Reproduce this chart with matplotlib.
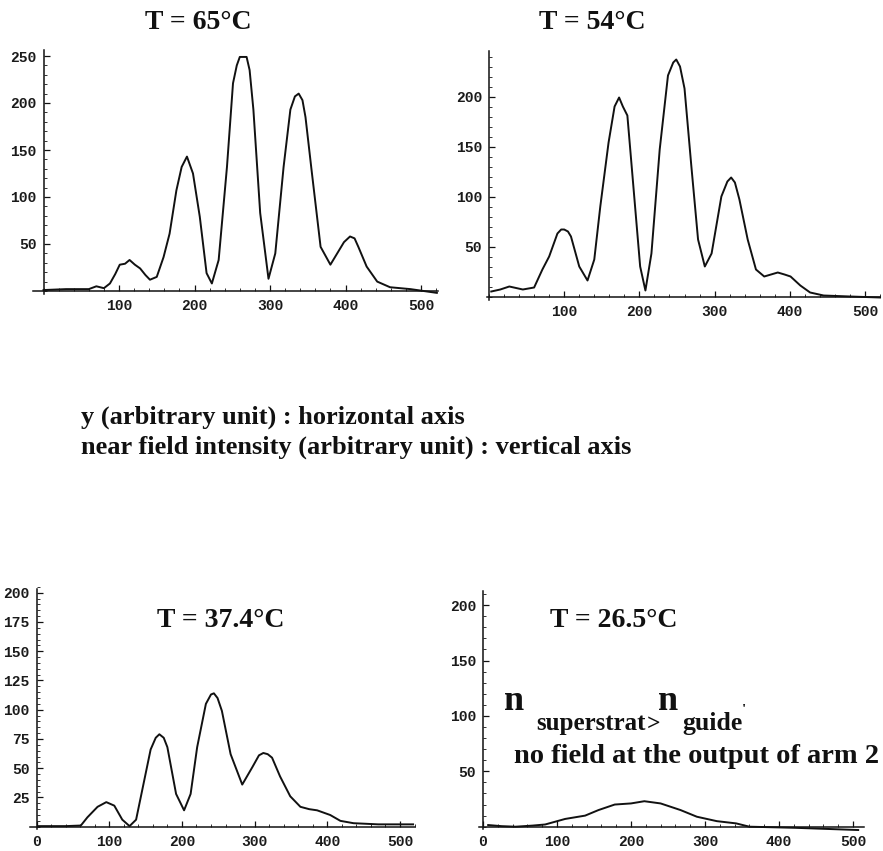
import matplotlib
matplotlib.use("Agg")
import matplotlib.pyplot as plt
from matplotlib.ticker import FixedLocator, MultipleLocator

W, H = 883, 851

# near-field profiles (y position, intensity)
x65 = [0, 30, 60, 70, 80, 88, 95, 101, 108, 114, 121, 128, 135, 141, 150, 159, 167,
       176, 183, 190, 198, 207, 216, 223, 232, 243, 251, 256, 260, 269, 273, 278, 287,
       298, 307, 318, 327, 333, 338, 343, 347, 355, 367, 380, 389, 398, 406, 412,
       417, 428, 442, 459, 486, 521]
y65 = [1, 2, 2, 5, 3, 8, 18, 28, 29, 33, 28, 24, 17, 12, 15, 36, 61,
       107, 132, 143, 125, 79, 19, 8, 33, 132, 221, 240, 249, 249, 235, 193, 83,
       13, 40, 132, 193, 207, 210, 203, 185, 129, 47, 28, 40, 52, 58, 56,
       47, 26, 10, 4, 2, -2]

x54 = [3, 15, 27, 45, 60, 71, 80, 91, 96, 100, 105, 109, 120, 131, 140, 148, 159,
       167, 173, 178, 184, 192, 201, 208, 216, 227, 238, 245, 249, 254, 260, 269, 278,
       287, 296, 309, 317, 322, 327, 333, 344, 355, 366, 375, 384, 393, 401, 414,
       427, 445, 480, 520]
y54 = [5, 7, 10, 7, 9, 27, 40, 63, 67, 67, 65, 60, 30, 16, 37, 90, 154,
       190, 199, 190, 181, 110, 30, 6, 43, 147, 221, 234, 237, 230, 208, 131, 57,
       30, 43, 100, 115, 119, 114, 97, 57, 27, 20, 22, 24, 22, 20, 11,
       4, 1, 0, -1]

x374 = [2, 20, 40, 61, 70, 84, 96, 107, 118, 128, 137, 146, 157, 164, 169, 175,
        180, 192, 203, 212, 221, 233, 240, 244, 249, 255, 267, 283, 297, 306, 312,
        318, 324, 335, 349, 363, 375, 386, 395, 404, 418, 436, 470, 518]
y374 = [0.5, 0.5, 0.5, 1, 8, 17, 21, 18, 6, 0.5, 6, 33, 66, 76, 79, 76,
        68, 28, 14, 28, 68, 105, 113, 114, 110, 99, 62, 36, 51, 61, 63,
        62, 59, 43, 26, 17, 15, 14, 12, 10, 5, 3, 2, 2]

x265 = [7, 25, 44, 67, 84, 111, 138, 156, 178, 200, 218, 240, 267, 289, 316,
        342, 360, 422, 507]
y265 = [1.5, 0.5, 0, 1, 2, 7, 10, 15, 20, 21, 23, 21, 15, 9, 5,
        3, 0, -1, -3]

fig = plt.figure(figsize=(W / 100, H / 100), dpi=100)
fig.patch.set_facecolor("white")

TICK_FONT = dict(family="Liberation Mono", weight="bold", size=10.5)
SERIF = ["Liberation Serif", "DejaVu Serif"]


def panel(x0, y0, sx, sy, xb, yb, xticks, yticks, ymin_step):
    # x0, y0: pixel of data origin, sx, sy: pixels per data unit
    xlim = (xb[0] - 2, xb[1] + 2)
    ylim = (yb[0] - 2, yb[1] + 2)
    left = x0 + xlim[0] * sx
    right = x0 + xlim[1] * sx
    bottom = y0 - ylim[0] * sy
    top = y0 - ylim[1] * sy
    ax = fig.add_axes([left / W, 1 - bottom / H, (right - left) / W, (bottom - top) / H])
    ax.set_xlim(*xlim)
    ax.set_ylim(*ylim)
    ax.patch.set_alpha(0)
    for s in ("top", "right"):
        ax.spines[s].set_visible(False)
    ax.spines["left"].set_position(("data", 0))
    ax.spines["bottom"].set_position(("data", 0))
    ax.spines["left"].set_bounds(*yb)
    ax.spines["bottom"].set_bounds(*xb)
    for s in ("left", "bottom"):
        ax.spines[s].set_linewidth(1.1)
        ax.spines[s].set_color("#111111")
    ax.xaxis.set_major_locator(FixedLocator(xticks))
    ax.yaxis.set_major_locator(FixedLocator(yticks))
    ax.xaxis.set_minor_locator(MultipleLocator(20))
    ax.yaxis.set_minor_locator(MultipleLocator(ymin_step))
    ax.tick_params(which="major", direction="in", length=4, width=0.9, color="#111111", pad=6)
    ax.tick_params(which="minor", direction="in", length=2, width=0.6, color="#111111")
    ax.tick_params(axis="y", pad=5)
    for lab in ax.get_xticklabels() + ax.get_yticklabels():
        lab.set_fontfamily(TICK_FONT["family"])
        lab.set_fontweight(TICK_FONT["weight"])
        lab.set_fontsize(TICK_FONT["size"])
        lab.set_color("#1a1a1a")
    return ax


def ftext(x, y, s, size, ha="left", va="baseline"):
    fig.text(x / W, 1 - y / H, s, fontsize=size, fontweight="bold", family=SERIF,
             ha=ha, va=va, color="#111111")


ax1 = panel(43.5, 291, 0.755, 0.94, (-14, 523), (-3, 256),
            [100, 200, 300, 400, 500], [50, 100, 150, 200, 250], 10)
ax1.plot(x65, y65, color="#111111", lw=1.4)

ax2 = panel(489, 296.5, 0.752, 1.0, (-3, 520), (-3, 246),
            [100, 200, 300, 400, 500], [50, 100, 150, 200], 10)
ax2.plot(x54, y54, color="#111111", lw=1.4)

ax3 = panel(36.5, 826.7, 0.727, 1.17, (-9, 521), (-2, 203),
            [0, 100, 200, 300, 400, 500], [25, 50, 75, 100, 125, 150, 175, 200], 5)
ax3.plot(x374, y374, color="#111111", lw=1.4)

ax4 = panel(483, 826.7, 0.74, 1.108, (-5, 515), (-2, 213),
            [0, 100, 200, 300, 400, 500], [50, 100, 150, 200], 10)
ax4.plot(x265, y265, color="#111111", lw=1.4)

# titles
ftext(198, 29, "T = 65°C", 20, ha="center")
ftext(592, 29, "T = 54°C", 20, ha="center")
ftext(221, 627, "T = 37.4°C", 20, ha="center")
ftext(614, 627, "T = 26.5°C", 20, ha="center")

# axis legend in the middle
ftext(81, 424, "y (arbitrary unit) : horizontal axis", 19)
ftext(81, 454, "near field intensity (arbitrary unit) : vertical axis", 19)

# annotation in the last panel
ftext(504, 710, "n", 26)
ftext(536, 730, "superstrat", 18)
ftext(647, 730, ">", 17)
ftext(658, 710, "n", 26)
ftext(682, 730, "guide", 18.5)
ftext(742, 714, "'", 11)
ftext(514, 763, "no field at the output of arm 2", 20.5)

fig.savefig("out.png", dpi=100, facecolor="white")
